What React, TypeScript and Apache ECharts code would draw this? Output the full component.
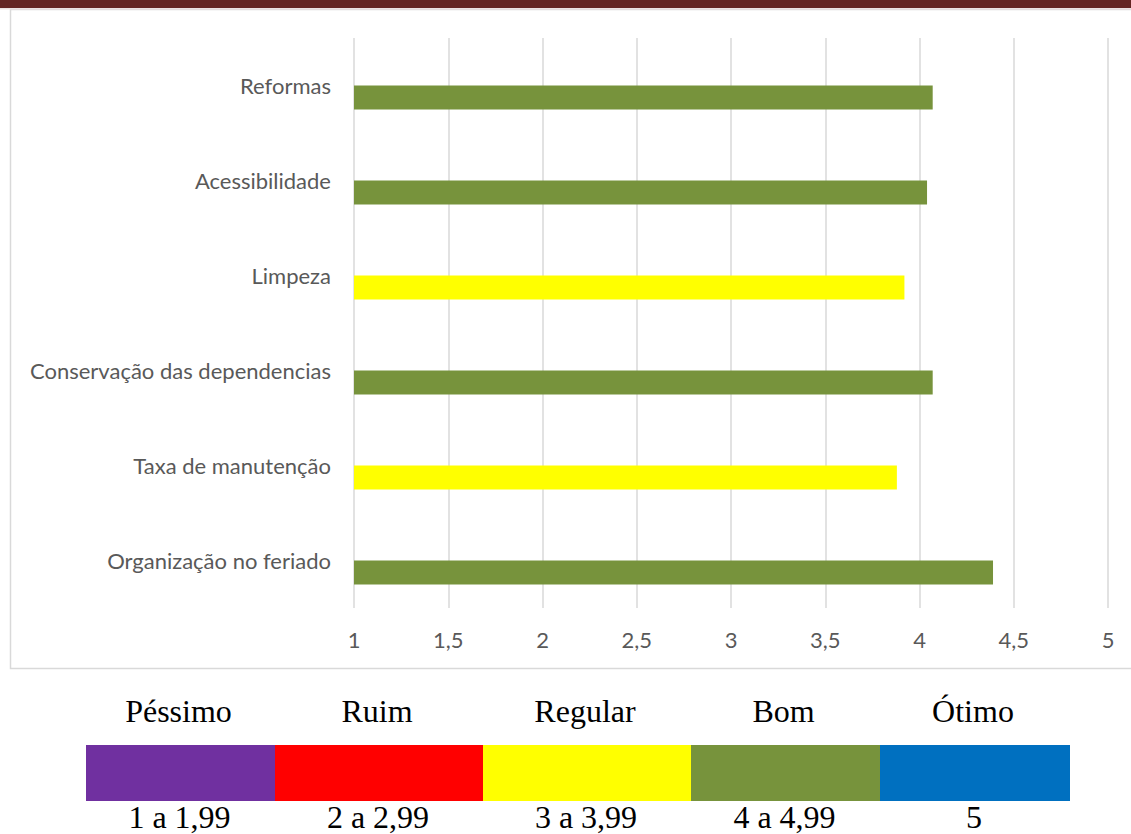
import React, { useEffect, useRef } from "react";
import * as echarts from "echarts";

const categories = [
  "Reformas",
  "Acessibilidade",
  "Limpeza",
  "Conservação das dependencias",
  "Taxa de manutenção",
  "Organização no feriado",
];
const values = [4.07, 4.04, 3.92, 4.07, 3.88, 4.39];
const xTicks = [1, 1.5, 2, 2.5, 3, 3.5, 4, 4.5, 5];

const legendNames = ["Péssimo", "Ruim", "Regular", "Bom", "Ótimo"];
const legendRanges = ["1 a 1,99", "2 a 2,99", "3 a 3,99", "4 a 4,99", "5"];
const legendLower = [1, 2, 3, 4, 5];
const legendColors = ["#7030A0", "#FF0000", "#FFFF00", "#77933C", "#0070C0"];

// layout (pixels)
const cellEdges = [86, 275, 483, 691, 880, 1070];
const cellTop = 745;
const cellBottom = 801;

function colorFor(v: number): string {
  let idx = 0;
  legendLower.forEach((lb, i) => {
    if (v >= lb) idx = i;
  });
  return legendColors[idx];
}

export default function App() {
  const ref = useRef<HTMLDivElement>(null);
  useEffect(() => {
    if (!ref.current) return;
    const chart = echarts.init(ref.current, undefined, { renderer: "svg" });
    const graphics: any[] = [
      { type: "rect", shape: { x: 0, y: 0, width: 1131, height: 8 }, style: { fill: "#632523" }, z: 10 },
      { type: "rect", shape: { x: 0, y: 8, width: 1131, height: 1.5 }, style: { fill: "#ebe2e2" }, z: 10 },
      {
        type: "rect",
        shape: { x: 10.5, y: 9.5, width: 1200, height: 659 },
        style: { fill: "none", stroke: "#d9d9d9", lineWidth: 1.5 },
        z: -1,
      },
    ];
    legendNames.forEach((name, i) => {
      const x0 = cellEdges[i];
      const x1 = cellEdges[i + 1];
      const cx = (x0 + x1) / 2;
      graphics.push({
        type: "rect",
        shape: { x: x0, y: cellTop, width: x1 - x0, height: cellBottom - cellTop },
        style: { fill: legendColors[i] },
      });
      graphics.push({
        type: "text",
        x: cx - 2,
        y: 727,
        style: {
          text: name,
          fill: "#000",
          font: '32px "Liberation Serif", "Times New Roman", serif',
          textAlign: "center",
          textVerticalAlign: "bottom",
        },
      });
      graphics.push({
        type: "text",
        x: cx - 1,
        y: 833,
        style: {
          text: legendRanges[i],
          fill: "#000",
          font: '32px "Liberation Serif", "Times New Roman", serif',
          textAlign: "center",
          textVerticalAlign: "bottom",
        },
      });
    });

    chart.setOption({
      animation: false,
      grid: { left: 354, right: 23, top: 38, bottom: 226, containLabel: false },
      xAxis: {
        type: "value",
        min: xTicks[0],
        max: xTicks[xTicks.length - 1],
        interval: 0.5,
        axisLine: { show: false },
        axisTick: { show: false },
        splitLine: { show: true, lineStyle: { color: "#d9d9d9", width: 1.5 } },
        axisLabel: {
          color: "#595959",
          fontSize: 22,
          fontFamily: "Lato, 'Open Sans', sans-serif",
          margin: 20,
          formatter: (v: number) => String(v).replace(".", ","),
        },
      },
      yAxis: {
        type: "category",
        data: categories,
        inverse: true,
        axisLine: { show: false },
        axisTick: { show: false },
        splitLine: { show: false },
        axisLabel: {
          color: "#595959",
          fontSize: 22,
          fontFamily: "Lato, 'Open Sans', sans-serif",
          margin: 23,
          padding: [0, 0, 4, 0],
        },
      },
      series: [
        {
          type: "bar",
          name: "vazio",
          data: values.map(() => "-"),
          barWidth: 24,
          barGap: "0%",
        },
        {
          type: "bar",
          name: "Média",
          data: values.map((v) => ({ value: v, itemStyle: { color: colorFor(v) } })),
          barWidth: 24,
          barGap: "0%",
        },
      ],
      graphic: graphics,
    });
    return () => chart.dispose();
  }, []);
  return (
    <div
      ref={ref}
      style={{ position: "fixed", left: 0, top: 0, width: 1131, height: 834, background: "#fff" }}
    />
  );
}
